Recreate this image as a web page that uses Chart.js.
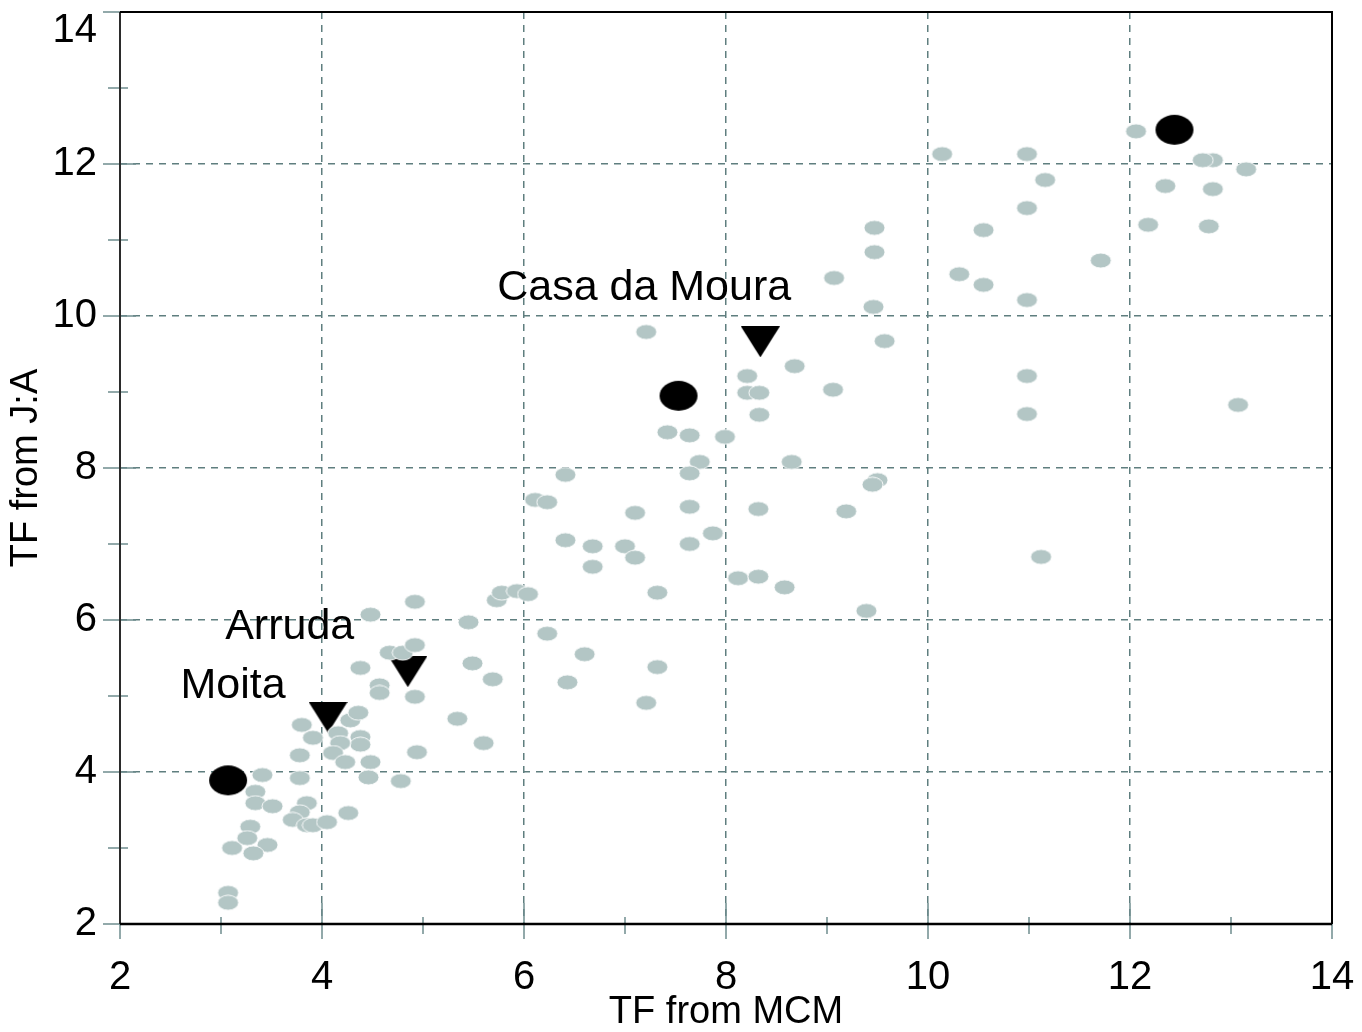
<!DOCTYPE html>
<html>
<head>
<meta charset="utf-8">
<script src="https://cdn.jsdelivr.net/npm/chart.js@4.4.1/dist/chart.umd.min.js"></script>
<style>
  html, body { margin: 0; padding: 0; background: #fff; }
  #chart { display: block; }
</style>
</head>
<body>
<canvas id="chart" width="1362" height="1032"></canvas>
<script>
// TF from MCM (x) vs TF from J:A (y)
const greyX = [
  3.07, 3.07, 3.11, 3.29, 3.26, 3.34, 3.41, 3.34, 3.51, 3.46, 3.32, 3.78, 3.78, 3.80, 3.91,
  3.85, 3.78, 3.71, 3.85, 3.91, 4.05, 4.26, 4.16, 4.28, 4.36, 4.38, 4.38, 4.18, 4.11, 4.23,
  4.48, 4.46, 4.78, 4.94, 4.38, 4.57, 4.57, 4.67, 4.80, 4.92, 4.92, 4.92, 4.48, 5.34, 5.60,
  7.42, 7.64, 7.99, 7.74, 7.64, 8.65, 6.41, 6.11, 6.23, 7.10, 7.64, 8.32, 6.41, 6.68, 7.00,
  7.64, 7.87, 7.10, 6.68, 8.12, 8.32, 8.58, 7.32, 5.73, 5.78, 5.93, 6.04, 5.45, 6.23, 6.60,
  5.49, 5.69, 6.43, 7.32, 7.21,
  9.46, 7.21, 9.57, 8.68, 8.21, 8.21, 8.33, 9.06, 8.33, 9.50, 9.45, 9.19, 11.12, 9.39,
  12.06, 10.14, 10.98, 12.82, 12.72, 13.15, 11.16, 12.35, 12.82, 10.98, 9.47, 10.55, 12.18,
  12.78, 9.47, 11.71, 9.07, 10.31, 10.55, 10.98, 10.98, 10.98, 13.07
];
const greyY = [
  2.41, 2.28, 3.00, 3.28, 3.13, 3.74, 3.96, 3.59, 3.55, 3.04, 2.93, 3.92, 4.22, 4.62, 4.45,
  3.59, 3.47, 3.37, 3.30, 3.30, 3.34, 3.46, 4.51, 4.68, 4.78, 4.46, 4.36, 4.38, 4.25, 4.13,
  4.13, 3.93, 3.88, 4.26, 5.37, 5.14, 5.04, 5.57, 5.57, 5.67, 4.99, 6.24, 6.07, 4.70, 4.38,
  8.47, 8.43, 8.41, 8.08, 7.93, 8.08, 7.91, 7.58, 7.55, 7.41, 7.49, 7.46, 7.05, 6.97, 6.97,
  7.00, 7.14, 6.82, 6.70, 6.55, 6.57, 6.43, 6.36, 6.26, 6.36, 6.38, 6.34, 5.97, 5.82, 5.55,
  5.43, 5.22, 5.18, 5.38, 4.91,
  10.12, 9.79, 9.67, 9.34, 9.21, 8.99, 8.99, 9.03, 8.70, 7.84, 7.78, 7.43, 6.83, 6.12,
  12.43, 12.13, 12.13, 12.05, 12.05, 11.93, 11.79, 11.71, 11.67, 11.42, 11.16, 11.13, 11.20,
  11.18, 10.84, 10.73, 10.50, 10.55, 10.41, 10.21, 9.21, 8.71, 8.83
];

const blackX = [3.07, 7.53, 12.44];
const blackY = [3.89, 8.95, 12.45];

const siteNames = ['Moita', 'Arruda', 'Casa da Moura'];
const siteX = [4.06, 4.85, 8.34];
const siteY = [4.72, 5.32, 9.66];

const xTicks = [2, 4, 6, 8, 10, 12, 14];
const yTicks = [2, 4, 6, 8, 10, 12, 14];

const FONT = '"Liberation Sans", Arial, Helvetica, sans-serif';
const GRID = '#5f7e7f';
const TICK = '#6e8d8e';

function toPoints(xs, ys) {
  return xs.map((x, i) => ({ x, y: ys[i] }));
}

// small sprite canvases used as point styles
function ellipseSprite(w, h, fill, stroke) {
  const c = document.createElement('canvas');
  c.width = w + 2; c.height = h + 2;
  const g = c.getContext('2d');
  g.beginPath();
  g.ellipse(c.width / 2, c.height / 2, w / 2, h / 2, 0, 0, Math.PI * 2);
  g.fillStyle = fill;
  g.fill();
  if (stroke) { g.strokeStyle = stroke; g.lineWidth = 1; g.stroke(); }
  return c;
}

function triangleSprite(w, h) {
  const c = document.createElement('canvas');
  c.width = w; c.height = h;
  const g = c.getContext('2d');
  g.beginPath();
  g.moveTo(0, 0); g.lineTo(w, 0); g.lineTo(w / 2, h); g.closePath();
  g.fillStyle = '#000';
  g.fill();
  return c;
}

const greyDot = ellipseSprite(21, 15, '#b3c6c5', 'rgba(255,255,255,0.9)');
const blackDot = ellipseSprite(38, 30, '#000');
const downTri = triangleSprite(39, 31);

// axes, ticks, frame and site labels
const framePlugin = {
  id: 'frame',
  afterDraw(chart) {
    const { ctx, chartArea: a } = chart;
    const xs = chart.scales.x, ys = chart.scales.y;
    ctx.save();
    ctx.strokeStyle = TICK;
    ctx.lineWidth = 1.5;
    for (let v = 2; v <= 14; v++) {
      const px = xs.getPixelForValue(v);
      const major = v % 2 === 0;
      ctx.beginPath();
      ctx.moveTo(px, a.bottom - (major ? 21 : 7));
      ctx.lineTo(px, a.bottom + (major ? 15 : 10));
      ctx.stroke();
      const py = ys.getPixelForValue(v);
      ctx.beginPath();
      ctx.moveTo(a.left - (major ? 17 : 12), py);
      ctx.lineTo(a.left + (major ? 16 : 8), py);
      ctx.stroke();
    }
    ctx.strokeStyle = '#2b2b2b';
    ctx.lineWidth = 2;
    ctx.beginPath();
    ctx.moveTo(a.left, a.top); ctx.lineTo(a.left, a.bottom);
    ctx.stroke();
    ctx.strokeStyle = '#000';
    ctx.lineWidth = 2.5;
    ctx.beginPath();
    ctx.moveTo(a.left, a.bottom); ctx.lineTo(a.right, a.bottom);
    ctx.stroke();
    ctx.lineWidth = 2;
    ctx.beginPath();
    ctx.moveTo(a.left, a.top); ctx.lineTo(a.right, a.top); ctx.lineTo(a.right, a.bottom);
    ctx.stroke();

    // top y label sits lower in the original, it would be clipped otherwise
    ctx.fillStyle = '#000';
    ctx.font = '40px ' + FONT;
    ctx.textAlign = 'right';
    ctx.textBaseline = 'middle';
    ctx.fillText('14', a.left - 23, ys.getPixelForValue(14) + 19);

    // site names
    const labelAt = [[3.12, 5.13], [3.68, 5.91], [7.19, 10.36]];
    ctx.font = '43px ' + FONT;
    ctx.textAlign = 'center';
    siteNames.forEach((name, i) => {
      ctx.fillText(name, xs.getPixelForValue(labelAt[i][0]), ys.getPixelForValue(labelAt[i][1]));
    });
    ctx.restore();
  }
};

const edgeGrid = ctx => {
  const v = ctx.tick && ctx.tick.value;
  return (v === 2 || v === 14) ? 'rgba(0,0,0,0)' : GRID;
};

new Chart(document.getElementById('chart'), {
  type: 'scatter',
  data: {
    datasets: [
      { data: toPoints(greyX, greyY), pointStyle: greyDot, pointRadius: 10 },
      { data: toPoints(blackX, blackY), pointStyle: blackDot, pointRadius: 18 },
      { data: toPoints(siteX, siteY), pointStyle: downTri, pointRadius: 18 }
    ]
  },
  options: {
    responsive: false,
    animation: false,
    devicePixelRatio: 1,
    layout: { autoPadding: false, padding: { top: 12, right: 30, left: 0, bottom: 0 } },
    plugins: { legend: { display: false }, tooltip: { enabled: false } },
    scales: {
      x: {
        type: 'linear', min: 2, max: 14,
        afterBuildTicks: s => { s.ticks = xTicks.map(value => ({ value })); },
        afterFit: s => { s.height = 108; s.paddingLeft = 0; s.paddingRight = 0; },
        grid: { color: edgeGrid, lineWidth: 1.5, drawTicks: false },
        border: { display: false, dash: [7, 6] },
        ticks: { color: '#000', padding: 30, font: { family: FONT, size: 40 } },
        title: {
          display: true, text: 'TF from MCM', color: '#000',
          font: { family: FONT, size: 38, lineHeight: 1 }, padding: { top: 0, bottom: 0 }
        }
      },
      y: {
        type: 'linear', min: 2, max: 14,
        afterBuildTicks: s => { s.ticks = yTicks.map(value => ({ value })); },
        afterFit: s => { s.width = 120; s.paddingTop = 0; s.paddingBottom = 0; },
        grid: { color: edgeGrid, lineWidth: 1.5, drawTicks: false },
        border: { display: false, dash: [7, 6] },
        ticks: {
          color: '#000', padding: 23, font: { family: FONT, size: 40 },
          callback: v => (v === 14 ? '' : String(v))
        },
        title: {
          display: true, text: 'TF from J:A', color: '#000',
          font: { family: FONT, size: 38, lineHeight: 1 }, padding: { top: 8, bottom: 0 }
        }
      }
    }
  },
  plugins: [framePlugin]
});
</script>
</body>
</html>
